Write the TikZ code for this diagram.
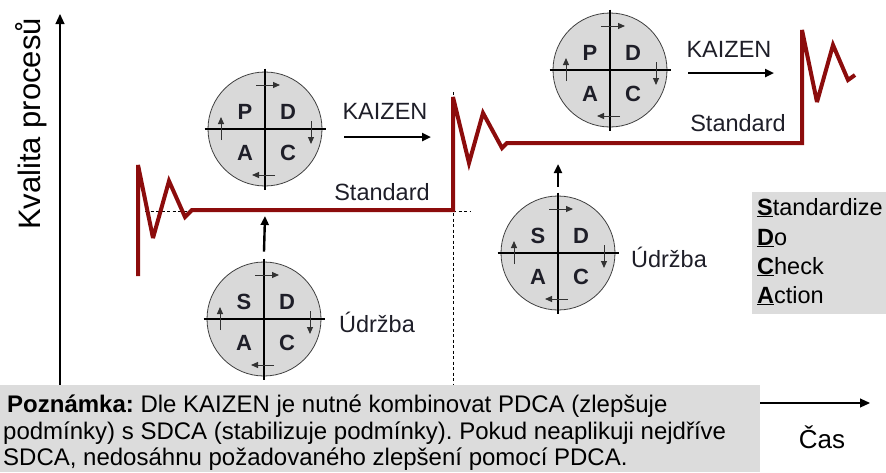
\documentclass[tikz,border=0pt]{standalone}
\usepackage{fontspec}
\setmainfont{Liberation Sans}
\usetikzlibrary{arrows.meta}
\definecolor{qred}{RGB}{140,12,12}
\definecolor{wheelfill}{RGB}{217,217,217}
\definecolor{notefill}{RGB}{220,220,220}
\definecolor{txt}{RGB}{30,30,40}
\newcommand\cyclewheel[3]{%
  \begin{scope}[shift={#2}]
    \node[wheel] (#1) at (0,0) {};
    \draw[crossline] ([yshift=3pt]#1.north) -- ([yshift=-4pt]#1.south);
    \draw[crossline] ([xshift=-3pt]#1.west) -- ([xshift=4pt]#1.east);
    \node[wletter] (#1-a) at (-20,-17) {#3};
    \node[wletter] (#1-b) at (23,-17) {D};
    \node[wletter] (#1-c) at (-20,24) {A};
    \node[wletter] (#1-d) at (23,24) {C};
    \coordinate (#1-t1) at (-9,-44); \coordinate (#1-t2) at (15,-44);
    \coordinate (#1-r1) at (46,-8);  \coordinate (#1-r2) at (46,15);
    \coordinate (#1-b1) at (10,46);  \coordinate (#1-b2) at (-13,46);
    \coordinate (#1-l1) at (-44,11); \coordinate (#1-l2) at (-44,-12);
    \draw[smallarrow] (#1-t1) -- (#1-t2);
    \draw[smallarrow] (#1-r1) -- (#1-r2);
    \draw[smallarrow] (#1-b1) -- (#1-b2);
    \draw[smallarrow] (#1-l1) -- (#1-l2);
  \end{scope}}
\begin{document}
\frenchspacing
\begin{tikzpicture}[x=1pt,y=-1pt,
  wheel/.style={circle,draw=black!75,line width=0.8pt,fill=wheelfill,minimum size=114pt,inner sep=0pt},
  crossline/.style={draw=black,line width=1.1pt},
  wletter/.style={font=\fontsize{22}{24}\selectfont\bfseries,text=txt,inner sep=0pt},
  smallarrow/.style={draw=black!80,line width=1pt,-{Triangle[length=7pt,width=6pt]}},
  bigarrow/.style={draw=black,line width=2.4pt,-{Triangle[length=9pt,width=8pt]}},
  axisarrow/.style={draw=black,line width=1.1pt,-{Triangle[length=10pt,width=9pt]}},
  qline/.style={draw=qred,line width=4pt,line join=miter,miter limit=4},
  guide/.style={draw=black,line width=0.8pt,dash pattern=on 3pt off 2.5pt},
  lbl/.style={font=\fontsize{23.5}{26}\selectfont,text=txt,inner sep=0pt},
  notetxt/.style={font=\fontsize{24}{27}\selectfont,text=black,inner sep=0pt,anchor=base west},
  legtxt/.style={font=\fontsize{23.5}{26}\selectfont,text=black,inner sep=0pt,anchor=base west}
]
\useasboundingbox (0,0) rectangle (886,472);
% axes
\coordinate (yo) at (60,395);
\coordinate (ytop) at (60,14);
\coordinate (xo) at (60,403);
\coordinate (xend) at (870,403);
\draw[axisarrow] (yo) -- (ytop);
\draw[axisarrow] (xo) -- (xend);
\node[font=\fontsize{31}{33}\selectfont,rotate=90,inner sep=0pt] (ylab) at (31,124) {Kvalita procesů};
\node[font=\fontsize{26}{28}\selectfont,inner sep=0pt] (xlab) at (822,437) {Čas};
% guides
\coordinate (g1a) at (145,211); \coordinate (g1b) at (192,211);
\coordinate (g2a) at (453,211); \coordinate (g2b) at (470,211);
\coordinate (g3a) at (453,92);  \coordinate (g3b) at (453,390);
\draw[guide] (g1a) -- (g1b);
\draw[guide] (g2a) -- (g2b);
\draw[guide] (g3a) -- (g3b);
% quality line
\draw[qline] (138,276) -- (138,165) -- (153,238) -- (169,181) -- (185,217) -- (192,210)
  -- (453,210) -- (453,97) -- (469,163) -- (483,113) -- (502,148) -- (507,143)
  -- (802,143) -- (802,30) -- (817,102) -- (833,45) -- (848,80) -- (855,75);
% wheels
\cyclewheel{pdca1}{(265,129)}{P}
\cyclewheel{sdca1}{(264,319)}{S}
\cyclewheel{pdca2}{(610,70)}{P}
\cyclewheel{sdca2}{(558,253)}{S}
% arrows
\coordinate (k1s) at (344,137); \coordinate (k1e) at (431,137);
\coordinate (k2s) at (688,73);  \coordinate (k2e) at (774,73);
\draw[bigarrow] (k1s) -- (k1e);
\draw[bigarrow] (k2s) -- (k2e);
\coordinate (u1e) at (265,216);
\coordinate (u2e) at (558,164);
\draw[bigarrow] ([yshift=10pt]sdca1.north) -- (u1e);
\draw[bigarrow] ([yshift=9pt]sdca2.north) -- (u2e);
% labels
\node[lbl] (kz1) at (385,111) {KAIZEN};
\node[lbl] (kz2) at (729,49) {KAIZEN};
\node[lbl] (st1) at (382,192) {Standard};
\node[lbl] (st2) at (738,123) {Standard};
\node[lbl] (ud1) at (377,322) {Údržba};
\node[lbl] (ud2) at (669,257) {Údržba};
% legend
\fill[notefill] (752,192) rectangle (886,314);
\node[legtxt] (lg1) at (757,215) {\underline{\textbf{S}}tandardize};
\node[legtxt] (lg2) at (757,245) {\underline{\textbf{D}}o};
\node[legtxt] (lg3) at (757,274) {\underline{\textbf{C}}heck};
\node[legtxt] (lg4) at (757,303) {\underline{\textbf{A}}ction};
% note
\fill[notefill] (0,385) rectangle (760,472);
\node[notetxt] (n1) at (7,412) {\textbf{Poznámka:} Dle KAIZEN je nutné kombinovat PDCA (zlepšuje};
\node[notetxt] (n2) at (3,439) {podmínky) s SDCA (stabilizuje podmínky). Pokud neaplikuji nejdříve};
\node[notetxt] (n3) at (3,465) {SDCA, nedosáhnu požadovaného zlepšení pomocí PDCA.};
\end{tikzpicture}
\end{document}
